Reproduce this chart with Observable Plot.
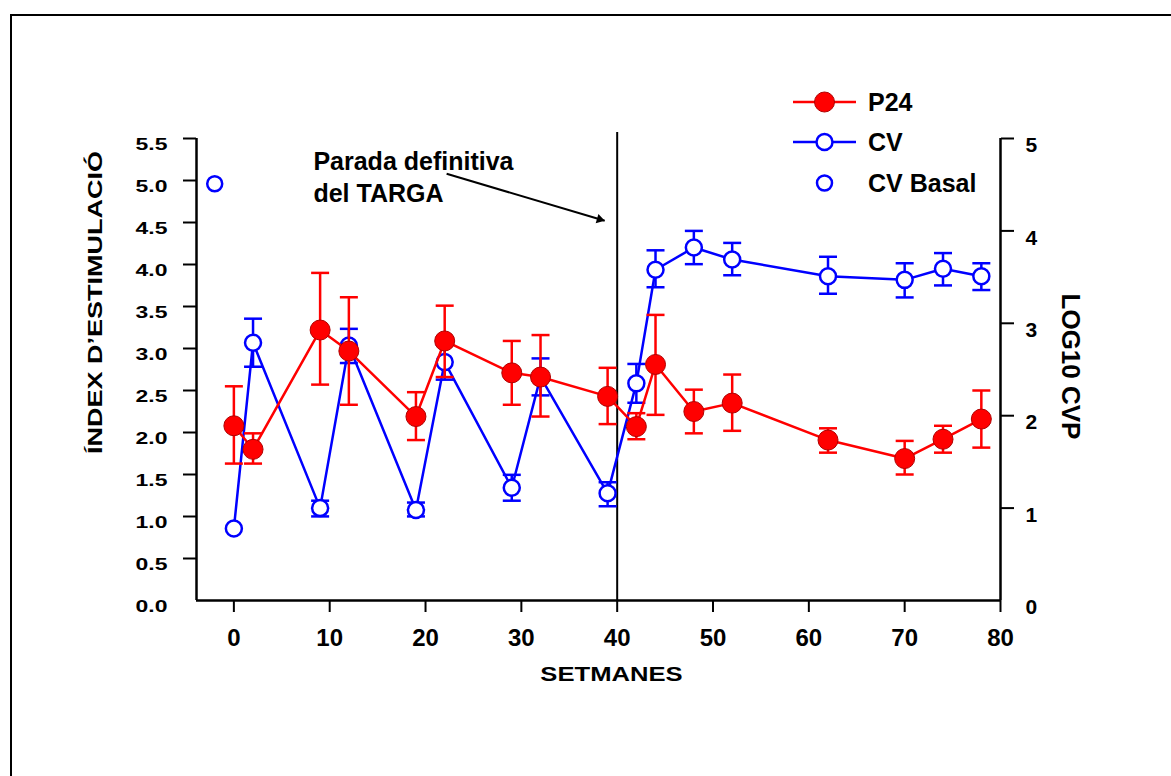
<!DOCTYPE html>
<html><head><meta charset="utf-8">
<script src="https://cdn.jsdelivr.net/npm/d3@7"></script>
<script src="https://cdn.jsdelivr.net/npm/@observablehq/plot@0.6"></script>
<style>
body{margin:0;background:#fff;}
#wrap{position:relative;width:1171px;height:776px;overflow:hidden;background:#fff;}
#box{position:absolute;left:10px;top:14px;width:1300px;height:900px;border-top:2px solid #000;border-left:2px solid #000;}
#chart{position:absolute;left:0;top:0;}
#legend{position:absolute;left:0;top:0;pointer-events:none;}
</style></head><body>
<div id="wrap"><div id="box"></div><div id="chart"></div><svg id="legend" width="1171" height="776"></svg></div>
<script>
// ---- data ----
const weeks    = [0, 2, 9, 12, 19, 22, 29, 32, 39, 42, 44, 48, 52, 62, 70, 74, 78];
const p24      = [2.08, 1.80, 3.22, 2.97, 2.19, 3.09, 2.71, 2.66, 2.43, 2.07, 2.81, 2.25, 2.35, 1.91, 1.69, 1.92, 2.16];
const p24Low   = [1.63, 1.63, 2.57, 2.33, 1.91, 2.66, 2.33, 2.19, 2.10, 1.92, 2.21, 1.99, 2.02, 1.76, 1.50, 1.76, 1.82];
const p24High  = [2.55, 1.99, 3.90, 3.61, 2.48, 3.51, 3.09, 3.16, 2.77, 2.23, 3.40, 2.51, 2.69, 2.05, 1.90, 2.08, 2.50];
const cv       = [0.78, 2.79, 1.00, 2.76, 0.98, 2.58, 1.22, 2.42, 1.16, 2.35, 3.58, 3.82, 3.69, 3.51, 3.47, 3.59, 3.51];
const cvLow    = [null, 2.53, 0.91, 2.57, 0.91, 2.39, 1.08, 2.22, 1.02, 2.14, 3.39, 3.64, 3.52, 3.32, 3.28, 3.41, 3.36];
const cvHigh   = [null, 3.05, 1.08, 2.94, 1.06, 2.77, 1.36, 2.62, 1.28, 2.56, 3.79, 4.00, 3.87, 3.72, 3.65, 3.76, 3.65];
const cvBasalWeek = [-2];
const cvBasal     = [4.51];
const stopWeek = 40;

const xTicks = [0, 10, 20, 30, 40, 50, 60, 70, 80];
const leftTicks = [0, 0.5, 1, 1.5, 2, 2.5, 3, 3.5, 4, 4.5, 5, 5.5];
const rightTicks = [0, 1, 2, 3, 4, 5];
const xDomain = [-3.9, 80];
const leftDomain = [0, 5.5];
const rightMax = 5;

const xTitle = "SETMANES";
const leftTitle = "ÍNDEX D’ESTIMULACIÓ";
const rightTitle = "LOG10 CVP";
const noteLines = ["Parada definitiva", "del TARGA"];
const noteAt = [{w: 8.3, v: 5.39}];
const arrowAt = [{w1: 22.2, v1: 5.08, w2: 38.7, v2: 4.52}];
const legendLabels = ["P24", "CV", "CV Basal"];

const RED = "#ff0000", BLUE = "#0000ff";
const k = leftDomain[1] / rightMax; // right-axis value -> left-axis scale

const p24Data = weeks.map((w, i) => ({w, v: p24[i], lo: p24Low[i], hi: p24High[i]}));
const cvData = weeks.map((w, i) => ({w, v: cv[i] * k, lo: cvLow[i] == null ? null : cvLow[i] * k, hi: cvHigh[i] == null ? null : cvHigh[i] * k}));
const cvErr = cvData.filter(d => d.lo != null);
const basalData = cvBasalWeek.map((w, i) => ({w, v: cvBasal[i] * k}));

const cap = {draw(ctx, size) { const r = Math.sqrt(size / Math.PI); ctx.moveTo(-r, 0); ctx.lineTo(r, 0); }};
const FONT = '"Liberation Sans", Arial, Helvetica, sans-serif';

const plot = Plot.plot({
  width: 1171, height: 776,
  marginTop: 138, marginBottom: 176, marginLeft: 196, marginRight: 171,
  x: {domain: xDomain},
  y: {domain: leftDomain},
  style: {fontFamily: FONT, fontWeight: "bold", color: "#000", background: "transparent", overflow: "visible"},
  marks: [
    // frame lines
    Plot.ruleY([leftDomain[0]], {stroke: "#000", strokeWidth: 2.5}),
    Plot.ruleX([xDomain[0]], {stroke: "#000", strokeWidth: 2.5}),
    Plot.ruleX([xDomain[1]], {stroke: "#000", strokeWidth: 2.5}),
    Plot.ruleX([stopWeek], {stroke: "#000", strokeWidth: 2, insetTop: -6}),
    // axes: ticks
    Plot.axisX({ticks: xTicks, tickSize: 12, strokeWidth: 2, tickFormat: () => "", label: null}),
    Plot.axisY({ticks: leftTicks.slice(1), tickSize: 13, strokeWidth: 2, tickFormat: () => "", label: null}),
    Plot.axisY({anchor: "right", ticks: rightTicks.slice(1).map(t => t * k), tickSize: 13, strokeWidth: 2, tickFormat: () => "", label: null}),
    // axes: labels
    Plot.axisX({ticks: xTicks, tickSize: 0, tickPadding: 28, fontSize: 24, fontWeight: "bold", tickFormat: d => String(d), label: null}),
    Plot.axisY({ticks: leftTicks, tickSize: 0, tickPadding: 29, fontSize: 17, fontWeight: "bold", dy: 6, tickFormat: d => d.toFixed(1), label: null}),
    Plot.axisY({anchor: "right", ticks: rightTicks.map(t => t * k), tickSize: 0, tickPadding: 25, fontSize: 21, fontWeight: "bold", dy: 7, tickFormat: d => String(Math.round(d / k)), label: null}),
    // titles
    Plot.text([xTitle], {text: d => d, frameAnchor: "bottom", textAnchor: "middle", dx: 13, dy: 80, fontSize: 21, fontWeight: "bold"}),
    Plot.text([leftTitle], {text: d => d, frameAnchor: "left", textAnchor: "middle", dx: -101, dy: -67, rotate: -90, fontSize: 20, fontWeight: "bold"}),
    Plot.text([rightTitle], {text: d => d, frameAnchor: "right", textAnchor: "middle", dx: 70, dy: -3, rotate: 90, fontSize: 26, fontWeight: "bold"}),
    // annotation
    Plot.text(noteAt, {x: "w", y: "v", text: () => noteLines.join("\n"), textAnchor: "start", lineAnchor: "top", lineHeight: 1.27, fontSize: 25, fontWeight: "bold"}),
    Plot.link(arrowAt, {x1: "w1", y1: "v1", x2: "w2", y2: "v2", stroke: "#000", strokeWidth: 2, markerEnd: "arrow"}),
    // CV series
    Plot.ruleX(cvErr, {x: "w", y1: "lo", y2: "hi", stroke: BLUE, strokeWidth: 2.5}),
    Plot.dot(cvErr, {x: "w", y: "lo", symbol: cap, r: 9, stroke: BLUE, strokeWidth: 2.5, fill: "none"}),
    Plot.dot(cvErr, {x: "w", y: "hi", symbol: cap, r: 9, stroke: BLUE, strokeWidth: 2.5, fill: "none"}),
    Plot.line(cvData, {x: "w", y: "v", stroke: BLUE, strokeWidth: 2.5}),
    Plot.dot(cvData, {x: "w", y: "v", r: 8, stroke: BLUE, strokeWidth: 2.5, fill: "#fff"}),
    Plot.dot(basalData, {x: "w", y: "v", r: 7.5, stroke: BLUE, strokeWidth: 2.5, fill: "#fff"}),
    // P24 series
    Plot.ruleX(p24Data, {x: "w", y1: "lo", y2: "hi", stroke: RED, strokeWidth: 2.5}),
    Plot.dot(p24Data, {x: "w", y: "lo", symbol: cap, r: 9, stroke: RED, strokeWidth: 2.5, fill: "none"}),
    Plot.dot(p24Data, {x: "w", y: "hi", symbol: cap, r: 9, stroke: RED, strokeWidth: 2.5, fill: "none"}),
    Plot.line(p24Data, {x: "w", y: "v", stroke: RED, strokeWidth: 2.5}),
    Plot.dot(p24Data, {x: "w", y: "v", r: 10, fill: RED, stroke: "#b00000", strokeWidth: 1})
  ]
});
document.getElementById("chart").appendChild(plot);

// replace Plot's open arrow marker by a filled triangle head
plot.querySelectorAll("marker").forEach(m => {
  m.setAttribute("markerWidth", "10"); m.setAttribute("markerHeight", "10");
  m.setAttribute("viewBox", "-5 -5 10 10");
  m.setAttribute("refX", "0"); m.setAttribute("refY", "0");
  m.innerHTML = '<path d="M-4,-2.4L0,0L-4,2.4Z" fill="#000" stroke="none"></path>';
});

// stretch selected texts about their anchor point (the original uses wide lettering)
const SVGNS = "http://www.w3.org/2000/svg";
function stretchText(test, sx, sy = 1) {
  Array.from(plot.querySelectorAll("text")).forEach(t => {
    if (!test(t.textContent)) return;
    const bb = t.getBBox();
    const anchor = getComputedStyle(t).textAnchor;
    const ax = anchor === "end" ? bb.x + bb.width : anchor === "middle" ? bb.x + bb.width / 2 : bb.x;
    const ay = bb.y + bb.height / 2;
    const c = t.transform.baseVal.consolidate();
    let p = {x: ax, y: ay};
    if (c) { const m = c.matrix; p = {x: m.a * ax + m.c * ay + m.e, y: m.b * ax + m.d * ay + m.f}; }
    const g = document.createElementNS(SVGNS, "g");
    t.parentNode.insertBefore(g, t);
    g.appendChild(t);
    g.setAttribute("transform", `translate(${p.x},${p.y}) scale(${sx},${sy}) translate(${-p.x},${-p.y})`);
  });
}
stretchText(s => /^\d\.\d$/.test(s), 1.35);
stretchText(s => s === xTitle, 1.22);
stretchText(s => s === leftTitle, 1, 1.35);

// legend
const lg = d3.select("#legend");
const legendX = 793, legendW = 63, legendY = [102, 142, 183], legendTextX = 868;
const styles = [
  {line: RED, dot: {r: 10, fill: RED, stroke: "#b00000", sw: 1}},
  {line: BLUE, dot: {r: 8, fill: "#fff", stroke: BLUE, sw: 2.5}},
  {line: null, dot: {r: 7.5, fill: "#fff", stroke: BLUE, sw: 2.5}}
];
legendLabels.forEach((lab, i) => {
  const s = styles[i], y = legendY[i];
  if (s.line) lg.append("line").attr("x1", legendX).attr("x2", legendX + legendW).attr("y1", y).attr("y2", y).attr("stroke", s.line).attr("stroke-width", 2.5);
  lg.append("circle").attr("cx", legendX + legendW / 2).attr("cy", y).attr("r", s.dot.r).attr("fill", s.dot.fill).attr("stroke", s.dot.stroke).attr("stroke-width", s.dot.sw);
  lg.append("text").attr("x", legendTextX).attr("y", y + 9).attr("font-family", FONT).attr("font-weight", "bold").attr("font-size", 25).attr("fill", "#000").text(lab);
});
</script>
</body></html>
